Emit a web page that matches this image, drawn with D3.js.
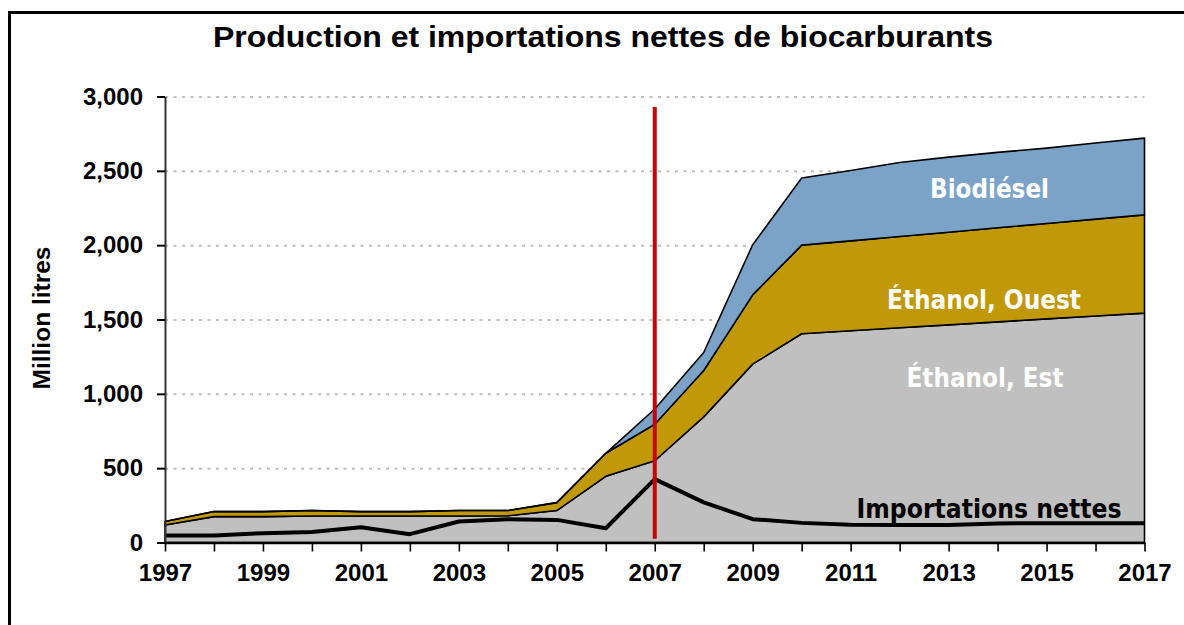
<!DOCTYPE html>
<html>
<head>
<meta charset="utf-8">
<script src="https://cdn.jsdelivr.net/npm/d3@7"></script>
<style>
  html, body { margin: 0; padding: 0; background: #fff; }
  svg { display: block; }
</style>
</head>
<body>
<div id="chart"></div>
<script>
const years = d3.range(1997, 2018)
const ethanolEst = [118, 174, 174, 178, 178, 178, 178, 180, 215, 445, 550, 845, 1200, 1404, 1424, 1444, 1464, 1484, 1504, 1524, 1543]
const ethanolOuest = [23, 34, 34, 37, 30, 30, 37, 35, 53, 155, 245, 312, 466, 596, 605, 614, 623, 633, 642, 651, 661]
const biodiesel = [0, 0, 0, 0, 0, 0, 0, 0, 0, 0, 103, 121, 337, 452, 473, 498, 505, 507, 507, 512, 516]
const importsNet = [47, 47, 63, 71, 103, 56, 141, 157, 152, 96, 426, 270, 157, 132, 120, 118, 118, 128, 130, 130, 130]
const yTicks = [0, 500, 1000, 1500, 2000, 2500, 3000]
const markerYear = 2007
const markerTop = 2930

const layerKeys = ["est", "ouest", "bio"]
const layerColors = {est: "#c0c0c0", ouest: "#c09808", bio: "#7ba3c8"}
const layerLabels = [
  {key: "bio", text: "Biodiésel", x: 989.5, y: 198, width: 119, size: 26, color: "#fff"},
  {key: "ouest", text: "Éthanol, Ouest", x: 984, y: 309, width: 194, size: 26, color: "#fff"},
  {key: "est", text: "Éthanol, Est", x: 985, y: 387, width: 157, size: 26, color: "#fff"},
  {key: "imp", text: "Importations nettes", x: 989, y: 518, width: 265, size: 26, color: "#000"}
]

const width = 1184
const height = 625
const margin = {top: 96.5, right: 39.5, bottom: 82.5, left: 165}
const innerWidth = width - margin.left - margin.right
const innerHeight = height - margin.top - margin.bottom

const rows = years.map((year, i) => ({year, est: ethanolEst[i], ouest: ethanolOuest[i], bio: biodiesel[i]}))
const series = d3.stack().keys(layerKeys)(rows)

const x = d3.scaleLinear().domain([1997, 2017]).range([0, innerWidth])
const y = d3.scaleLinear().domain([0, 3000]).range([innerHeight, 0])

const svg = d3.select("#chart").append("svg")
  .attr("width", width)
  .attr("height", height)
  .attr("viewBox", `0 0 ${width} ${height}`)

// outer frame, runs off the bottom and right of the picture
svg.append("rect")
  .attr("x", 9.5).attr("y", 12.5)
  .attr("width", width).attr("height", height)
  .attr("fill", "none").attr("stroke", "#000").attr("stroke-width", 3)

svg.append("text")
  .attr("x", 603).attr("y", 46.5)
  .attr("text-anchor", "middle")
  .attr("font-family", "Liberation Sans, Arial, sans-serif")
  .attr("font-weight", "bold")
  .attr("font-size", 30)
  .attr("textLength", 780)
  .attr("lengthAdjust", "spacingAndGlyphs")
  .text("Production et importations nettes de biocarburants")

svg.append("text")
  .attr("transform", `translate(50,318) rotate(-90)`)
  .attr("text-anchor", "middle")
  .attr("font-family", "Liberation Sans, Arial, sans-serif")
  .attr("font-weight", "bold")
  .attr("font-size", 24)
  .attr("textLength", 143)
  .attr("lengthAdjust", "spacingAndGlyphs")
  .text("Million litres")

const g = svg.append("g").attr("transform", `translate(${margin.left},${margin.top})`)

g.append("g")
  .call(d3.axisLeft(y).tickValues(yTicks.filter(d => d > 0)).tickSize(-innerWidth).tickFormat(""))
  .call(group => group.select(".domain").remove())
  .call(group => group.selectAll("text").remove())
  .call(group => group.selectAll("line")
    .attr("stroke", "#c0c0c0").attr("stroke-width", 2).attr("stroke-dasharray", "3,5.5"))

const area = d3.area()
  .x(d => x(d.data.year))
  .y0(d => y(d[0]))
  .y1(d => y(d[1]))

g.selectAll(".layer")
  .data(series)
  .join("path")
  .attr("class", "layer")
  .attr("fill", d => layerColors[d.key])
  .attr("stroke", "#000")
  .attr("stroke-width", 1.6)
  .attr("stroke-linejoin", "round")
  .attr("d", area)

const line = d3.line()
  .x((d, i) => x(years[i]))
  .y(d => y(d))

g.append("path")
  .datum(importsNet)
  .attr("fill", "none")
  .attr("stroke", "#000")
  .attr("stroke-width", 4)
  .attr("stroke-linejoin", "round")
  .attr("d", line)

g.append("line")
  .attr("x1", x(markerYear)).attr("x2", x(markerYear))
  .attr("y1", y(markerTop)).attr("y2", y(25))
  .attr("stroke", "#cc0000")
  .attr("stroke-width", 4)

const labelFont = group => group.selectAll("text")
  .attr("fill", "#000")
  .attr("font-family", "Liberation Sans, Arial, sans-serif")
  .attr("font-weight", "bold")
  .attr("font-size", 24)

g.append("g")
  .call(d3.axisLeft(y).tickValues(yTicks).tickSize(8).tickSizeOuter(0).tickPadding(14).tickFormat(d3.format(",")))
  .call(group => group.select(".domain").attr("stroke", "#333").attr("stroke-width", 2))
  .call(group => group.selectAll("line").attr("stroke", "#000").attr("stroke-width", 2))
  .call(labelFont)

g.append("g")
  .attr("transform", `translate(0,${innerHeight})`)
  .call(d3.axisBottom(x).tickValues(years).tickSize(9).tickSizeOuter(0).tickPadding(12).tickFormat(d3.format("d")))
  .call(group => group.select(".domain").attr("stroke", "#000").attr("stroke-width", 2.5))
  .call(group => group.selectAll("line").attr("stroke", "#000").attr("stroke-width", 1.6))
  .call(group => group.selectAll(".tick").filter(d => (d - 1997) % 2 !== 0).select("text").remove())
  .call(labelFont)

svg.selectAll(".layer-label")
  .data(layerLabels)
  .join("text")
  .attr("class", "layer-label")
  .attr("x", d => d.x)
  .attr("y", d => d.y)
  .attr("text-anchor", "middle")
  .attr("font-family", "DejaVu Sans, Verdana, sans-serif")
  .attr("font-weight", "bold")
  .attr("font-size", d => d.size)
  .attr("textLength", d => d.width)
  .attr("lengthAdjust", "spacingAndGlyphs")
  .attr("fill", d => d.color)
  .text(d => d.text)
</script>
</body>
</html>
